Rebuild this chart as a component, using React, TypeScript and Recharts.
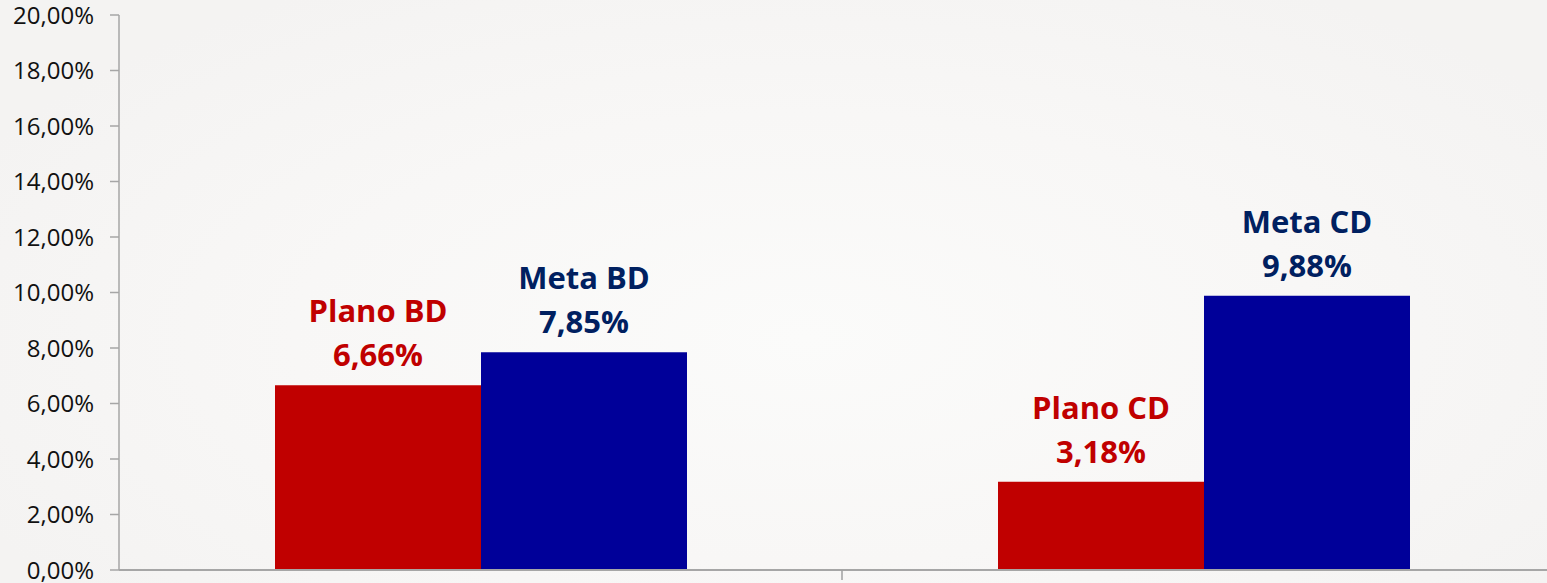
import React from "react";
import { BarChart, Bar, XAxis, YAxis, LabelList } from "recharts";

const categories = ["BD", "CD"];
const planoValues = [6.66, 3.18];
const metaValues = [7.85, 9.88];
const yTicks = [0, 2, 4, 6, 8, 10, 12, 14, 16, 18, 20];

const chartData = categories.map((cat, i) => ({
    name: cat,
    plano: planoValues[i],
    meta: metaValues[i],
}));

const fmtPct = (v: number) => v.toFixed(2).replace(".", ",") + "%";

const FONT = "'Open Sans', 'Liberation Sans', sans-serif";

function makeLabel(prefix: string, color: string) {
    return (props: any) => {
        const { x, y, width, value, index } = props;
        const cx = Number(x) + Number(width) / 2;
        const base = Number(y) - 19;
        return (
            <text
                x={cx}
                y={base}
                textAnchor="middle"
                fill={color}
                fontFamily={FONT}
                fontWeight={700}
                fontSize={31}
            >
                <tspan x={cx} y={base - 44}>
                    {prefix} {categories[index]}
                </tspan>
                <tspan x={cx} y={base}>
                    {fmtPct(Number(value))}
                </tspan>
            </text>
        );
    };
}

// category boundary tick (Excel puts ticks between categories)
const BoundaryTick = (props: any) => {
    const { x, y, payload } = props;
    const bx = Number(x) + (payload?.offset ?? 0);
    return <line x1={bx} x2={bx} y1={y} y2={Number(y) + 10} stroke="#a0a0a0" strokeWidth={1.5} />;
};

export default function App() {
    return (
        <div
            style={{
                position: "absolute",
                left: 0,
                top: 0,
                width: 1547,
                height: 583,
                overflow: "hidden",
                background:
                    "radial-gradient(ellipse 60% 70% at 52% 58%, #fbfbfa 0%, #f8f7f6 55%, #f4f3f2 100%)",
            }}
        >
            <BarChart
                width={1600}
                height={583}
                data={chartData}
                margin={{ top: 15, right: 35, bottom: 0, left: 1 }}
                barGap={0}
            >
                <XAxis
                    dataKey="name"
                    height={13}
                    axisLine={{ stroke: "#a6a6a6", strokeWidth: 2 }}
                    tickLine={false}
                    tickSize={0}
                    tickMargin={0}
                    tick={<BoundaryTick />}
                    interval={0}
                />
                <YAxis
                    width={118}
                    domain={[0, 20]}
                    ticks={yTicks}
                    interval={0}
                    tickFormatter={fmtPct}
                    axisLine={{ stroke: "#a6a6a6", strokeWidth: 1.5 }}
                    tickLine={{ stroke: "#a6a6a6", strokeWidth: 1.5 }}
                    tickSize={9}
                    tickMargin={16}
                    tick={{ fill: "#111", fontSize: 24, fontFamily: FONT }}
                />
                <Bar dataKey="plano" fill="#c00000" barSize={206} isAnimationActive={false}>
                    <LabelList dataKey="plano" content={makeLabel("Plano", "#c00000")} />
                </Bar>
                <Bar dataKey="meta" fill="#000099" barSize={206} isAnimationActive={false}>
                    <LabelList dataKey="meta" content={makeLabel("Meta", "#002060")} />
                </Bar>
            </BarChart>
        </div>
    );
}
